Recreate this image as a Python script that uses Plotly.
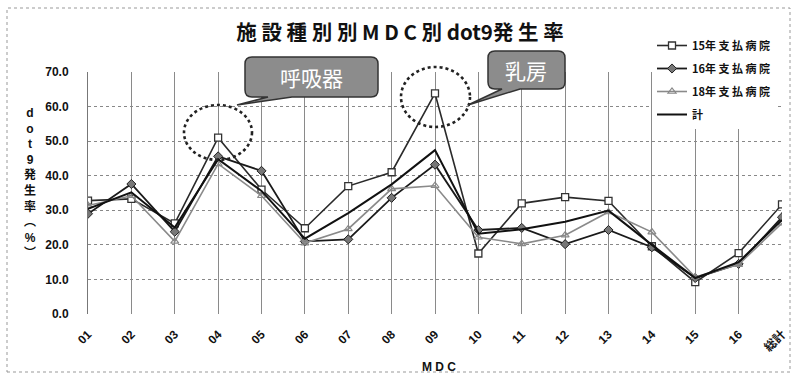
import plotly.graph_objects as go

# ---- data ----
categories = ["01", "02", "03", "04", "05", "06", "07", "08", "09", "10",
              "11", "12", "13", "14", "15", "16", "総計"]
h15 = [32.8, 33.3, 26.2, 51.0, 36.0, 24.8, 37.0, 41.0, 63.8, 17.5, 32.0, 33.8, 32.7, 19.6, 9.2, 17.6, 31.7]
h16 = [29.0, 37.6, 23.8, 45.6, 41.4, 21.0, 21.6, 33.6, 43.2, 24.3, 24.9, 20.2, 24.3, 19.3, 10.4, 14.5, 28.0]
h18 = [31.4, 34.2, 21.0, 43.4, 34.2, 20.5, 24.6, 36.2, 37.1, 22.2, 20.3, 22.8, 29.5, 23.7, 10.7, 14.3, 26.3]
total = [30.4, 35.2, 25.0, 44.8, 35.6, 21.8, 29.2, 37.5, 47.4, 23.2, 24.5, 26.7, 29.9, 20.0, 10.4, 15.0, 27.2]
series_names = ["15年 支 払 病 院", "16年 支 払 病 院", "18年 支 払 病 院", "計"]
yticks = [0, 10, 20, 30, 40, 50, 60, 70]

W, H = 791, 374
L, R, T, B = 88, 782, 72, 314
FONT = "Liberation Sans, Arial, Noto Sans CJK JP"
JP = "Noto Sans CJK JP, Liberation Sans"


def px(x):
    return (x - L) / (R - L)


def py(y):
    return (B - y) / (B - T)


def P(x, y):
    return f"{px(x):.5f},{py(y):.5f}"


def callout(x0, y0, x1, y1, r, bx0, bx1, tx, ty):
    return (f"M {P(x0 + r, y0)} L {P(x1 - r, y0)} Q {P(x1, y0)} {P(x1, y0 + r)} "
            f"L {P(x1, y1 - r)} Q {P(x1, y1)} {P(x1 - r, y1)} L {P(bx1, y1)} "
            f"L {P(tx, ty)} L {P(bx0, y1)} L {P(x0 + r, y1)} Q {P(x0, y1)} {P(x0, y1 - r)} "
            f"L {P(x0, y0 + r)} Q {P(x0, y0)} {P(x0 + r, y0)} Z")


fig = go.Figure()
fig.add_trace(go.Scatter(
    x=categories, y=h15, name=series_names[0], mode="lines+markers", legendgroup="a",
    line=dict(color="#2a2a2a", width=1.6),
    marker=dict(symbol="square", size=7, color="white", line=dict(color="#333", width=1.3))))
fig.add_trace(go.Scatter(
    x=categories, y=h16, name=series_names[1], mode="lines+markers", legendgroup="b",
    line=dict(color="#1a1a1a", width=1.8),
    marker=dict(symbol="diamond", size=7, color="#777", line=dict(color="#222", width=1))))
fig.add_trace(go.Scatter(
    x=categories, y=h18, name=series_names[2], mode="lines+markers", legendgroup="c",
    line=dict(color="#8a8a8a", width=1.6),
    marker=dict(symbol="triangle-up-open", size=7, color="#888", line=dict(width=1.2))))
fig.add_trace(go.Scatter(
    x=categories, y=total, name=series_names[3], mode="lines", legendgroup="d",
    line=dict(color="#111", width=2)))

shapes = [
    dict(type="rect", xref="paper", yref="paper", x0=px(7), x1=px(790), y0=py(372), y1=py(8),
         line=dict(color="#999", width=1, dash="dot"), layer="below"),
    dict(type="circle", xref="paper", yref="paper", x0=px(184), x1=px(252), y0=py(160), y1=py(105),
         line=dict(color="#222", width=2.6, dash="dot")),
    dict(type="circle", xref="paper", yref="paper", x0=px(401), x1=px(470), y0=py(127), y1=py(67),
         line=dict(color="#222", width=2.6, dash="dot")),
    dict(type="path", xref="paper", yref="paper",
         path=callout(245, 57, 378, 97, 7, 268, 292, 237, 105),
         fillcolor="#8c8c8c", line=dict(color="#333", width=1.5)),
    dict(type="path", xref="paper", yref="paper",
         path=callout(488, 51, 565, 89, 7, 502, 520, 468, 105),
         fillcolor="#8c8c8c", line=dict(color="#333", width=1.5)),
]

annotations = [
    dict(text="呼吸器", x=px(311), y=py(77), xref="paper", yref="paper", showarrow=False,
         xanchor="center", yanchor="middle",
         font=dict(family=JP, size=21, color="white")),
    dict(text="乳房", x=px(526), y=py(70), xref="paper", yref="paper", showarrow=False,
         xanchor="center", yanchor="middle",
         font=dict(family=JP, size=21, color="white")),
    dict(text="<b>d<br>o<br>t<br>9<br>発<br>生<br>率<br>︵<br>%<br>︶</b>",
         x=px(30), y=py(183), xref="paper", yref="paper", showarrow=False,
         xanchor="center", yanchor="middle",
         font=dict(family=FONT, size=12, color="#111"), align="center"),
    dict(text="<b>M D C</b>", x=px(439), y=py(367), xref="paper", yref="paper", showarrow=False,
         xanchor="center", yanchor="middle",
         font=dict(family=FONT, size=12, color="#111")),
]

fig.update_layout(
    width=W, height=H,
    margin=dict(l=L, r=W - R, t=T, b=H - B, pad=0),
    paper_bgcolor="white", plot_bgcolor="white",
    title=dict(text="<b>施 設 種 別 別 M D C 別 dot9発 生 率</b>", x=400 / W, y=1 - 33 / H,
               xref="container", yref="container", xanchor="center", yanchor="middle",
               font=dict(family=JP, size=20.5, color="#111")),
    showlegend=True,
    legend=dict(x=px(652), y=py(31), xanchor="left", yanchor="top", bgcolor="white",
                font=dict(family=JP, size=11, color="#111", weight="bold"), tracegroupgap=4,
                traceorder="grouped", itemwidth=30),
    shapes=shapes, annotations=annotations,
    xaxis=dict(type="category", range=[0, 16], showgrid=True, gridcolor="#8a8a8a", gridwidth=1,
               tickangle=-45, tickfont=dict(family=FONT, size=12, color="#111", weight="bold"),
               showline=False, zeroline=False, automargin=False, ticks="",
               ticklabelstandoff=10),
    yaxis=dict(range=[0, 70], tickvals=yticks, tickformat=".1f", showgrid=True,
               gridcolor="#888", griddash="dot", gridwidth=1,
               tickfont=dict(family=FONT, size=12, color="#111", weight="bold"),
               showline=True, linecolor="#777", linewidth=1, zeroline=False,
               automargin=False, ticks="", ticklabelstandoff=16),
)

fig.write_html("out.html")
